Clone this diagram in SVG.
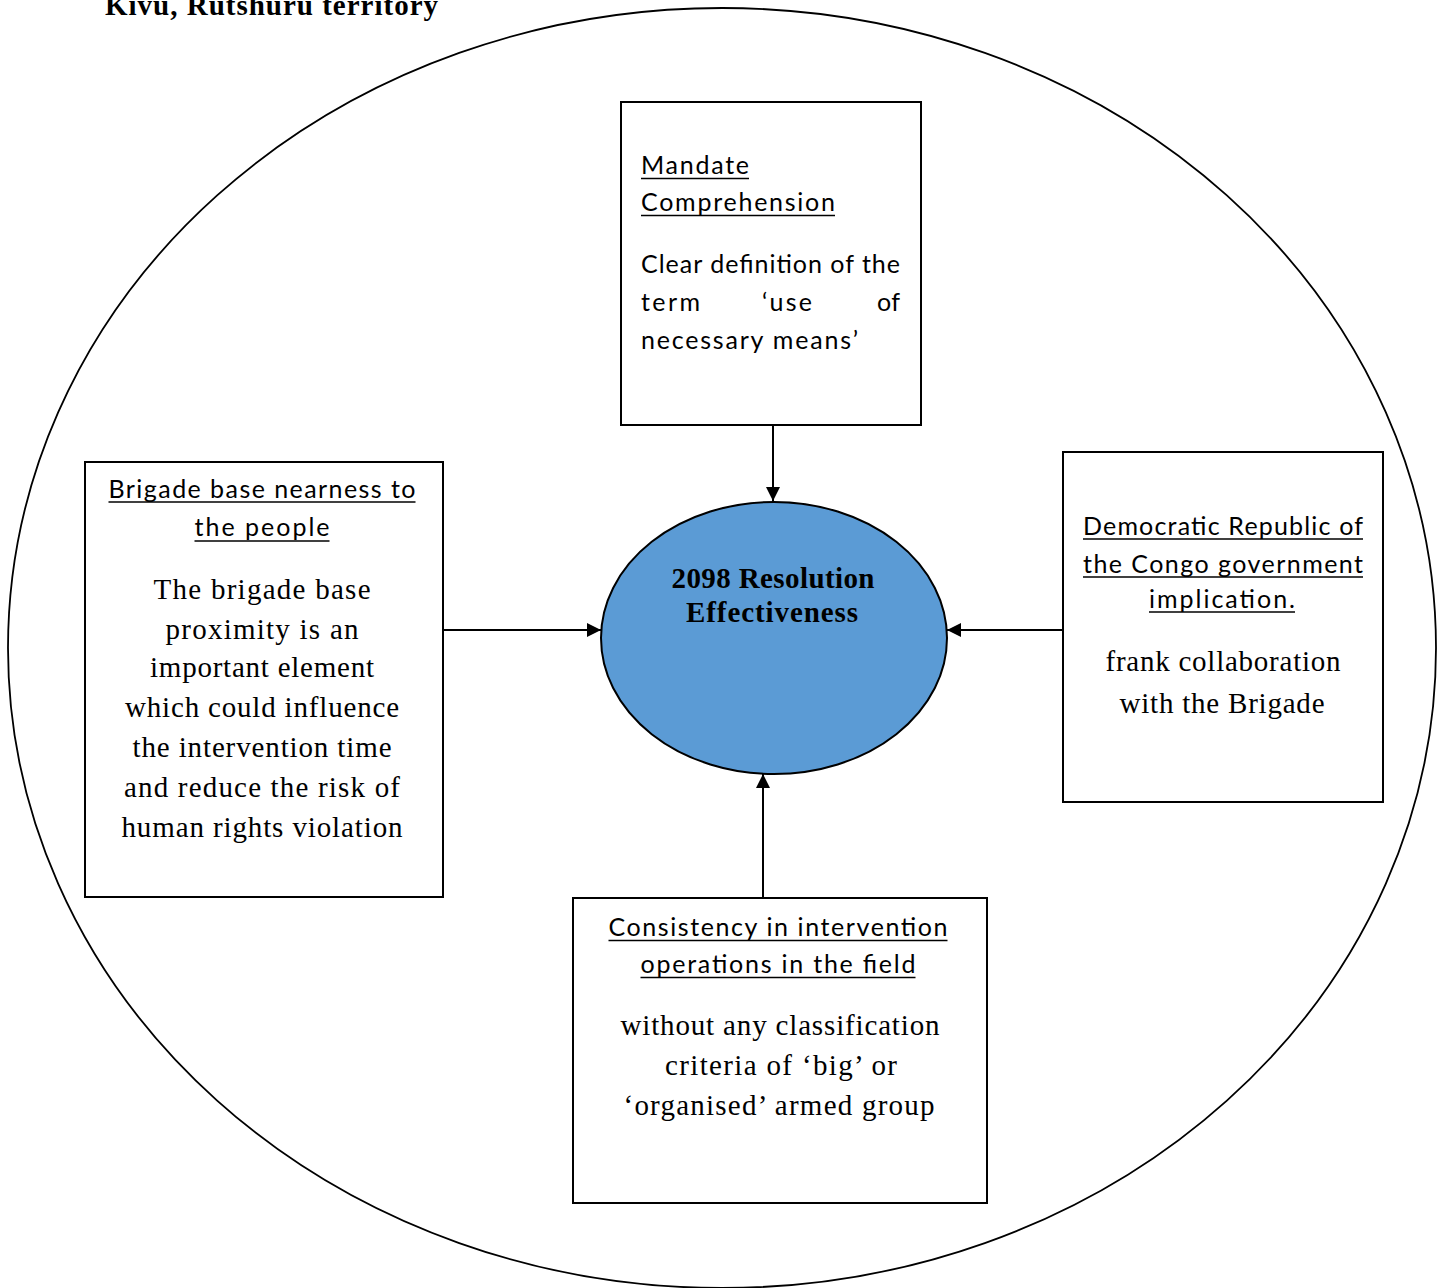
<svg xmlns="http://www.w3.org/2000/svg" width="1445" height="1288" viewBox="0 0 1445 1288">
<defs>
<marker id="arr" viewBox="0 0 10 10" refX="10" refY="5" markerWidth="14" markerHeight="14" markerUnits="userSpaceOnUse" orient="auto">
<path d="M0,0 L10,5 L0,10 Z" fill="#000"/>
</marker>
<style>
.box{fill:#fff;stroke:#000;stroke-width:2}
.hd{font-family:Lato,"Liberation Sans",sans-serif;font-size:25px;fill:#000}
.ul{stroke:#000;stroke-width:1.6}
.bd{font-family:"Liberation Serif","Times New Roman",serif;font-size:29px;fill:#000}
.bds{font-family:Lato,"Liberation Sans",sans-serif;font-size:25px;fill:#000}
.ti{font-family:"Liberation Serif","Times New Roman",serif;font-weight:bold;fill:#000}
.con{stroke:#000;stroke-width:2;fill:none;marker-end:url(#arr)}
</style>
</defs>
<rect width="1445" height="1288" fill="#fff"/>
<text class="ti" x="105" y="15" font-size="29" textLength="333" lengthAdjust="spacing">Kivu, Rutshuru territory</text>
<ellipse id="outer" cx="722" cy="648" rx="714" ry="640" fill="none" stroke="#000" stroke-width="1.8"/>

<g id="connectors">
<line class="con" x1="773" y1="426" x2="773" y2="501"/>
<line class="con" x1="443" y1="630" x2="601" y2="630"/>
<line class="con" x1="1063" y1="630" x2="947" y2="630"/>
<line class="con" x1="763" y1="898" x2="763" y2="774"/>
</g>

<g id="center">
<ellipse cx="774" cy="638" rx="173" ry="136" fill="#5B9BD5" stroke="#000" stroke-width="2"/>
<text class="ti" x="773" y="588" font-size="29" text-anchor="middle" textLength="203" lengthAdjust="spacing">2098 Resolution</text>
<text class="ti" x="772" y="622" font-size="29" text-anchor="middle" textLength="172" lengthAdjust="spacing">Effectiveness</text>
</g>

<g id="mandate">
<rect class="box" x="621" y="102" width="300" height="323"/>
<text class="hd" x="641" y="174" textLength="108" lengthAdjust="spacing">Mandate</text>
<line class="ul" x1="641" y1="178.5" x2="749" y2="178.5"/>
<text class="hd" x="641" y="211" textLength="194" lengthAdjust="spacing">Comprehension</text>
<line class="ul" x1="641" y1="215.5" x2="835" y2="215.5"/>
<text class="bds" x="641" y="273" textLength="259" lengthAdjust="spacing">Clear definition of the</text>
<text class="bds" x="641" y="311" textLength="59" lengthAdjust="spacing">term</text>
<text class="bds" x="762" y="311" textLength="50" lengthAdjust="spacing">‘use</text>
<text class="bds" x="877" y="311" textLength="23" lengthAdjust="spacing">of</text>
<text class="bds" x="641" y="349" textLength="217" lengthAdjust="spacing">necessary means’</text>
</g>

<g id="brigade">
<rect class="box" x="85" y="462" width="358" height="435"/>
<text class="hd" x="262" y="498" text-anchor="middle" textLength="307" lengthAdjust="spacing">Brigade base nearness to</text>
<line class="ul" x1="108.5" y1="502" x2="415.5" y2="502"/>
<text class="hd" x="262" y="536" text-anchor="middle" textLength="135" lengthAdjust="spacing">the people</text>
<line class="ul" x1="194.5" y1="541" x2="329.5" y2="541"/>
<text class="bd" x="262" y="599" text-anchor="middle" textLength="217" lengthAdjust="spacing">The brigade base</text>
<text class="bd" x="262" y="639" text-anchor="middle" textLength="193" lengthAdjust="spacing">proximity is an</text>
<text class="bd" x="262" y="677" text-anchor="middle" textLength="224" lengthAdjust="spacing">important element</text>
<text class="bd" x="262" y="717" text-anchor="middle" textLength="274" lengthAdjust="spacing">which could influence</text>
<text class="bd" x="262" y="757" text-anchor="middle" textLength="259" lengthAdjust="spacing">the intervention time</text>
<text class="bd" x="262" y="797" text-anchor="middle" textLength="276" lengthAdjust="spacing">and reduce the risk of</text>
<text class="bd" x="262" y="837" text-anchor="middle" textLength="281" lengthAdjust="spacing">human rights violation</text>
</g>

<g id="drc">
<rect class="box" x="1063" y="452" width="320" height="350"/>
<text class="hd" x="1223" y="535" text-anchor="middle" textLength="280" lengthAdjust="spacing">Democratic Republic of</text>
<line class="ul" x1="1083" y1="539" x2="1363" y2="539"/>
<text class="hd" x="1223" y="573" text-anchor="middle" textLength="280" lengthAdjust="spacing">the Congo government</text>
<line class="ul" x1="1083" y1="577" x2="1363" y2="577"/>
<text class="hd" x="1222" y="608" text-anchor="middle" textLength="146" lengthAdjust="spacing">implication.</text>
<line class="ul" x1="1149" y1="612" x2="1295" y2="612"/>
<text class="bd" x="1223" y="671" text-anchor="middle" textLength="235" lengthAdjust="spacing">frank collaboration</text>
<text class="bd" x="1222" y="713" text-anchor="middle" textLength="205" lengthAdjust="spacing">with the Brigade</text>
</g>

<g id="consistency">
<rect class="box" x="573" y="898" width="414" height="305"/>
<text class="hd" x="778" y="936" text-anchor="middle" textLength="339" lengthAdjust="spacing">Consistency in intervention</text>
<line class="ul" x1="608.5" y1="940.5" x2="947.5" y2="940.5"/>
<text class="hd" x="778" y="973" text-anchor="middle" textLength="275" lengthAdjust="spacing">operations in the field</text>
<line class="ul" x1="640.5" y1="977.5" x2="915.5" y2="977.5"/>
<text class="bd" x="780" y="1035" text-anchor="middle" textLength="319" lengthAdjust="spacing">without any classification</text>
<text class="bd" x="781" y="1075" text-anchor="middle" textLength="232" lengthAdjust="spacing">criteria of ‘big’ or</text>
<text class="bd" x="779" y="1115" text-anchor="middle" textLength="311" lengthAdjust="spacing">‘organised’ armed group</text>
</g>
</svg>
